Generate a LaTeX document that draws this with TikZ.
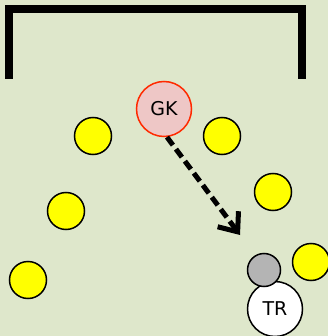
\documentclass[tikz,border=0pt]{standalone}
\usepackage{fontspec}
\setmainfont{DejaVu Sans}
\usetikzlibrary{arrows.meta}
\definecolor{bg}{HTML}{DEE7CB}
\definecolor{gkfill}{HTML}{EEC7C6}
\definecolor{gkline}{HTML}{FF2A00}
\definecolor{yel}{HTML}{FFFF00}
\definecolor{gry}{HTML}{B4B4B4}
\tikzset{
  player/.style={circle, draw=black, line width=1.5pt, fill=yel, minimum size=37pt, inner sep=0pt},
  gkstyle/.style={circle, draw=gkline, line width=1.5pt, fill=gkfill, minimum size=55pt, inner sep=0pt, font=\fontsize{19}{19}\selectfont},
  trstyle/.style={circle, draw=black, line width=1.5pt, fill=white, minimum size=55pt, inner sep=0pt, font=\fontsize{19}{19}\selectfont},
  ballstyle/.style={circle, draw=black, line width=1.5pt, fill=gry, minimum size=33pt, inner sep=0pt},
  goalline/.style={line width=7.5pt, line join=miter},
  runarrow/.style={line width=5pt, dash pattern=on 10pt off 5pt, -{Straight Barb[length=16pt,width=26pt,line width=5pt]}}
}
\begin{document}
\begin{tikzpicture}[x=1pt,y=-1pt]
\fill[bg] (0,0) rectangle (328,336);
\useasboundingbox (0,0) rectangle (328,336);
\draw[goalline] (9,79) -- (9,9) -- (302,9) -- (302,79);
\node[gkstyle] (gk) at (164,109) {GK};
\node[player] (p1) at (93,136) {};
\node[player] (p2) at (222,136) {};
\node[player] (p3) at (273,192) {};
\node[player] (p4) at (66,211) {};
\node[player] (p5) at (28,280) {};
\node[player] (p6) at (311,262) {};
\node[trstyle] (tr) at (275,309) {TR};
\node[ballstyle] (ball) at (264,270) {};
\coordinate (target) at (240,235);
\draw[runarrow] (gk.276) -- (target);
\end{tikzpicture}
\end{document}
